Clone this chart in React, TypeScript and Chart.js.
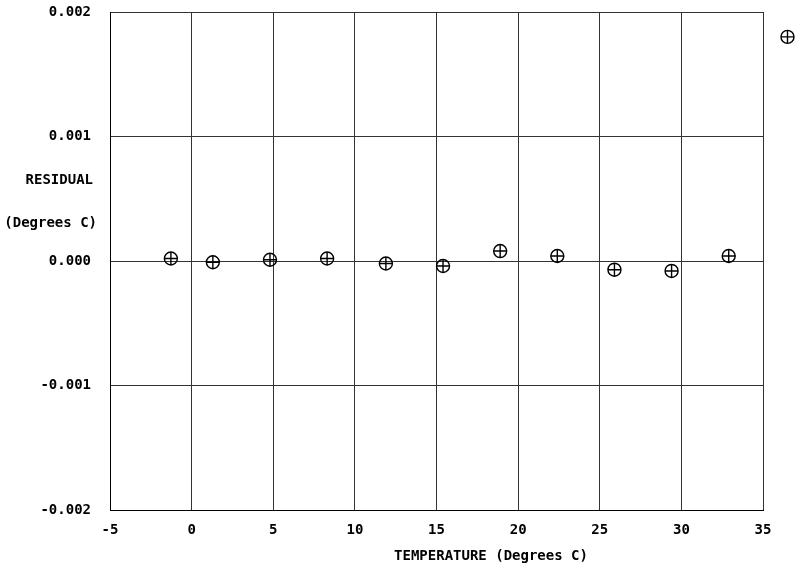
import React, { useEffect, useRef } from "react";
import { Chart, registerables } from "chart.js";

Chart.register(...registerables);

const temperatures = [-1.27, 1.3, 4.8, 8.3, 11.9, 15.4, 18.9, 22.4, 25.9, 29.4, 32.9];
const residuals = [0.00002, -0.00001, 0.00001, 0.00002, -0.00002, -0.00004, 0.00008, 0.00004, -0.00007, -0.00008, 0.00004];
const outlierTemp = [36.5];
const outlierResidual = [0.0018];
const xTicks = [-5, 0, 5, 10, 15, 20, 25, 30, 35];
const yTicks = [-0.002, -0.001, 0, 0.001, 0.002];

const FONT = "'DejaVu Sans Mono', monospace";
const R = 6.5;

function marker(ctx: CanvasRenderingContext2D, x: number, y: number) {
  ctx.save();
  ctx.strokeStyle = "#000";
  ctx.lineWidth = 1.4;
  ctx.beginPath();
  ctx.arc(x, y, R, 0, Math.PI * 2);
  ctx.moveTo(x - R, y);
  ctx.lineTo(x + R, y);
  ctx.moveTo(x, y - R);
  ctx.lineTo(x, y + R);
  ctx.stroke();
  ctx.restore();
}

const titlesPlugin = {
  id: "titles",
  afterDraw(chart: any) {
    const { ctx, chartArea, scales } = chart;
    ctx.save();
    ctx.fillStyle = "#000";
    ctx.font = `bold 14px ${FONT}`;
    ctx.textBaseline = "middle";
    ctx.textAlign = "right";
    const yS = scales.y;
    ctx.fillText("RESIDUAL", chartArea.left - 17, yS.getPixelForValue(0.000645));
    ctx.fillText("(Degrees C)", chartArea.left - 13, yS.getPixelForValue(0.0003));
    ctx.textAlign = "left";
    ctx.fillText("TEMPERATURE (Degrees C)", scales.x.getPixelForValue(12.4), chartArea.bottom + 46);
    outlierTemp.forEach((t, i) => {
      marker(ctx, scales.x.getPixelForValue(t), yS.getPixelForValue(outlierResidual[i]));
    });
    ctx.restore();
  },
};

export default function App() {
  const ref = useRef<HTMLCanvasElement | null>(null);
  useEffect(() => {
    if (!ref.current) return;
    const pts = temperatures.map((t, i) => ({ x: t, y: residuals[i] }));
    const circle = (data: any[]) => ({
      data,
      showLine: false,
      pointStyle: "circle",
      pointRadius: R,
      pointBorderWidth: 1.4,
      pointBorderColor: "#000",
      pointBackgroundColor: "rgba(0,0,0,0)",
    });
    const cross = (data: any[]) => ({
      data,
      showLine: false,
      pointStyle: "cross",
      pointRadius: R,
      pointBorderWidth: 1.4,
      pointBorderColor: "#000",
    });
    const chart = new Chart(ref.current, {
      type: "scatter",
      data: {
        datasets: [circle(pts), cross(pts)],
      },
      options: {
        animation: false,
        responsive: false,
        maintainAspectRatio: false,
        layout: { padding: { top: 12, right: 37, left: 0, bottom: 0 } },
        plugins: { legend: { display: false }, tooltip: { enabled: false } },
        scales: {
          x: {
            type: "linear",
            min: -5,
            max: 35,
            afterBuildTicks: (s: any) => {
              s.ticks = xTicks.map((v) => ({ value: v }));
            },
            afterFit: (s: any) => {
              s.height = 60;
              s.paddingLeft = 0;
              s.paddingRight = 0;
            },
            grid: { color: "#333", lineWidth: 1, drawTicks: false },
            border: { color: "#000", width: 1 },
            ticks: {
              color: "#000",
              padding: 12,
              font: { family: FONT, size: 14, weight: "bold" },
              callback: (v: any) => String(v),
            },
          },
          y: {
            type: "linear",
            min: -0.002,
            max: 0.002,
            afterBuildTicks: (s: any) => {
              s.ticks = yTicks.map((v) => ({ value: v }));
            },
            afterFit: (s: any) => {
              s.width = 110;
              s.paddingTop = 0;
              s.paddingBottom = 0;
            },
            grid: { color: "#333", lineWidth: 1, drawTicks: false },
            border: { color: "#000", width: 1 },
            ticks: {
              color: "#000",
              padding: 19,
              font: { family: FONT, size: 14, weight: "bold" },
              callback: (v: any) => Number(v).toFixed(3),
            },
          },
        },
      },
      plugins: [titlesPlugin],
    });
    return () => chart.destroy();
  }, []);
  return (
    <div style={{ position: "fixed", left: 0, top: 0, width: 800, height: 570, background: "#fff" }}>
      <canvas ref={ref} width={800} height={570} style={{ width: 800, height: 570 }} />
    </div>
  );
}
